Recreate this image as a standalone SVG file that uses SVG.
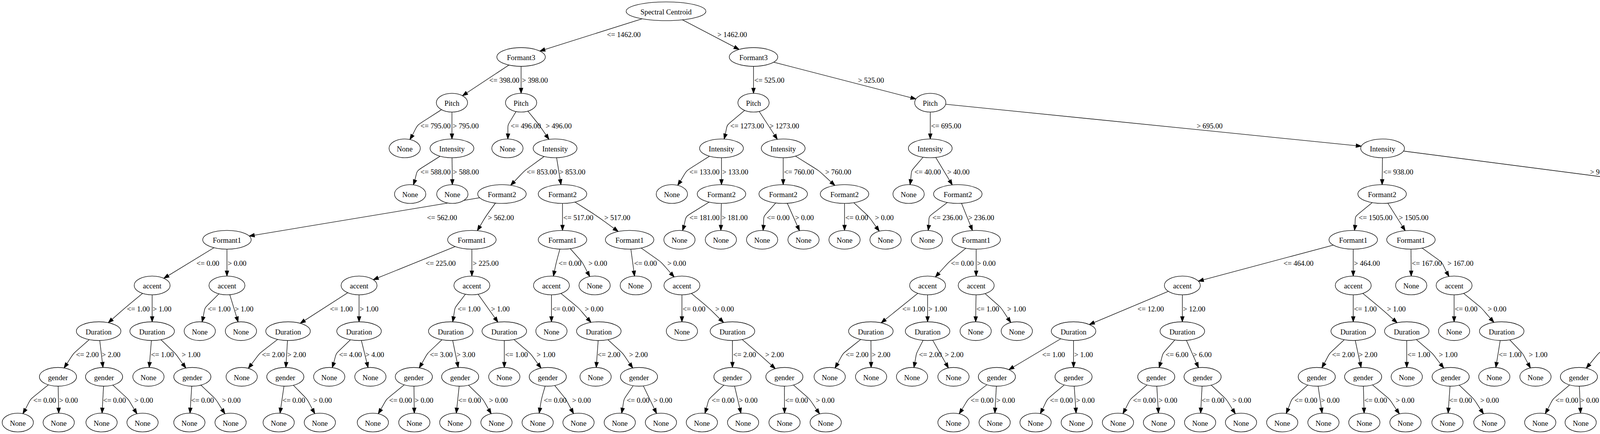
<svg xmlns="http://www.w3.org/2000/svg" width="5934" height="1112" viewBox="0 0 5934 1112">
<style>
.node ellipse{fill:#fff;stroke:#000;stroke-width:1.33}
.node text,.lbl{font-family:"Liberation Serif","Times New Roman",serif;font-size:18.67px;fill:#000}
.node text{text-anchor:middle}
.edge{fill:none;stroke:#000;stroke-width:1.33;marker-end:url(#arr)}
</style>
<defs>
<marker id="arr" markerUnits="userSpaceOnUse" markerWidth="16" markerHeight="12" refX="13.3" refY="4.7" orient="auto" overflow="visible"><path d="M0,0 L13.3,4.7 L0,9.4 Z" fill="#000" stroke="#000" stroke-width="1.3"/></marker>
</defs>
<rect width="5934" height="1112" fill="#fff"/>
<g id="connectors">
<path class="edge" d="M1705,28.9 L1382,130.8"/>
<path class="edge" d="M1705,28.9 L1892.1,126.7"/>
<path class="edge" d="M1334,146 L1183.9,245.3"/>
<path class="edge" d="M1334,146 L1334,239.1"/>
<path class="edge" d="M1157,263.1 C1041.7,341.2 1082,302.1 1049.3,357.5"/>
<path class="edge" d="M1157,263.1 L1157,356.1"/>
<path class="edge" d="M1157,380.1 C1041.7,458.2 1077.3,419.2 1058.2,473.7"/>
<path class="edge" d="M1157,380.1 L1158,473.2"/>
<path class="edge" d="M1334,263.1 C1290.7,341.2 1302.3,302.1 1300,356.1"/>
<path class="edge" d="M1334,263.1 C1396.7,341.2 1367.7,302.1 1405.3,357.1"/>
<path class="edge" d="M1421,380.1 C1316.5,458.2 1361.8,419.2 1307.1,474.8"/>
<path class="edge" d="M1421,380.1 L1436.1,473.2"/>
<path class="edge" d="M1285,497.2 L638,604.8"/>
<path class="edge" d="M1285,497.2 C1229,575.3 1254.7,536.2 1222,590.9"/>
<path class="edge" d="M581,614.3 L419.4,713.1"/>
<path class="edge" d="M581,614.3 L581,707.4"/>
<path class="edge" d="M389.5,731.4 C295.5,809.4 341.2,770.4 277.1,826.9"/>
<path class="edge" d="M389.5,731.4 L389.5,824.5"/>
<path class="edge" d="M252.5,848.5 C167,926.5 201.7,887.5 163.9,942.8"/>
<path class="edge" d="M252.5,848.5 L263.6,941.5"/>
<path class="edge" d="M148.4,965.5 C56.1,1043.6 90.4,1004.6 58.6,1059.9"/>
<path class="edge" d="M148.4,965.5 L150.3,1058.6"/>
<path class="edge" d="M266.4,965.5 L261.3,1058.6"/>
<path class="edge" d="M266.4,965.5 C348.5,1043.6 315.7,1004.6 350.7,1060.2"/>
<path class="edge" d="M389.5,848.5 L382,941.5"/>
<path class="edge" d="M389.5,848.5 C469.2,926.5 434.9,887.5 475.8,943"/>
<path class="edge" d="M492.4,965.5 L486.4,1058.6"/>
<path class="edge" d="M492.4,965.5 C572.1,1043.6 539.5,1004.6 575.8,1060.2"/>
<path class="edge" d="M581,731.4 C507.7,809.4 530.9,770.4 517.3,824.8"/>
<path class="edge" d="M581,731.4 L609.6,824.9"/>
<path class="edge" d="M1208,614.3 L955.5,716.7"/>
<path class="edge" d="M1208,614.3 L1208,707.4"/>
<path class="edge" d="M919.2,731.4 L768.6,828.4"/>
<path class="edge" d="M919.2,731.4 L919.2,824.5"/>
<path class="edge" d="M737.4,848.5 C640.2,926.5 679.8,887.5 635.7,943.8"/>
<path class="edge" d="M737.4,848.5 L731.8,941.5"/>
<path class="edge" d="M730.4,965.5 L716.9,1058.7"/>
<path class="edge" d="M730.4,965.5 C804.3,1043.6 774.8,1004.6 806,1059.9"/>
<path class="edge" d="M919.2,848.5 C842.9,926.5 868.4,887.5 850.5,942"/>
<path class="edge" d="M919.2,848.5 L942.3,941.8"/>
<path class="edge" d="M1208,731.4 C1151.7,809.4 1169.7,770.4 1158.8,824.6"/>
<path class="edge" d="M1208,731.4 L1274.7,825.5"/>
<path class="edge" d="M1154,848.5 C1074.7,926.5 1106.2,887.5 1073.2,942.5"/>
<path class="edge" d="M1154,848.5 L1173.1,941.6"/>
<path class="edge" d="M1059.4,965.5 C967.3,1043.6 1002.2,1004.6 968.3,1060.1"/>
<path class="edge" d="M1059.4,965.5 L1060.6,1058.6"/>
<path class="edge" d="M1178,965.5 L1168.1,1058.6"/>
<path class="edge" d="M1178,965.5 C1255.3,1043.6 1224.3,1004.6 1257.5,1060"/>
<path class="edge" d="M1291,848.5 L1291,941.5"/>
<path class="edge" d="M1291,848.5 C1380.1,926.5 1343,887.5 1385.3,943.1"/>
<path class="edge" d="M1402.3,965.5 C1380.6,1043.6 1389.2,1004.6 1380.3,1058.7"/>
<path class="edge" d="M1402.3,965.5 C1464.2,1043.6 1437.9,1004.6 1468.4,1059.8"/>
<path class="edge" d="M1440,497.2 L1440,590.3"/>
<path class="edge" d="M1440,497.2 C1561.3,575.3 1504.1,536.2 1582.6,593.1"/>
<path class="edge" d="M1440,614.3 C1418.7,692.4 1428.1,653.3 1416.7,707.5"/>
<path class="edge" d="M1440,614.3 C1507.2,692.4 1479.8,653.3 1509.8,708.6"/>
<path class="edge" d="M1411.7,731.4 L1411.7,824.5"/>
<path class="edge" d="M1411.7,731.4 C1504.1,809.4 1463.7,770.4 1513,826"/>
<path class="edge" d="M1533,848.5 L1526.4,941.5"/>
<path class="edge" d="M1533,848.5 C1615.1,926.5 1580.9,887.5 1619.9,942.9"/>
<path class="edge" d="M1635.8,965.5 C1585.8,1043.6 1602.2,1004.6 1591.4,1058.8"/>
<path class="edge" d="M1635.8,965.5 L1680.9,1059.5"/>
<path class="edge" d="M1611.8,614.3 L1624.4,707.5"/>
<path class="edge" d="M1611.8,614.3 C1719.3,692.4 1674.6,653.3 1726,709.7"/>
<path class="edge" d="M1745.7,731.4 L1745.7,824.5"/>
<path class="edge" d="M1745.7,731.4 C1838.1,809.4 1795,770.4 1852.5,826.5"/>
<path class="edge" d="M1875.1,848.5 L1875,941.5"/>
<path class="edge" d="M1875.1,848.5 C1965.6,926.5 1921.3,887.5 1984.8,944.6"/>
<path class="edge" d="M1875,965.5 C1796.3,1043.6 1822.4,1004.6 1804.5,1059.1"/>
<path class="edge" d="M1875,965.5 L1896.8,1058.8"/>
<path class="edge" d="M2008,965.5 L2008.4,1058.6"/>
<path class="edge" d="M2008,965.5 C2094.1,1043.6 2058.9,1004.6 2098.2,1060.5"/>
<path class="edge" d="M1929,146 L1929,239.1"/>
<path class="edge" d="M1929,146 L2344.8,253.6"/>
<path class="edge" d="M1929,263.1 C1841.5,341.2 1868.9,302.1 1853.7,356.3"/>
<path class="edge" d="M1929,263.1 L1990,357"/>
<path class="edge" d="M1847,380.1 C1729.7,458.2 1772,419.2 1734.8,474.9"/>
<path class="edge" d="M1847,380.1 L1847,473.2"/>
<path class="edge" d="M1847,497.2 C1729.7,575.3 1765.5,536.2 1747.3,590.8"/>
<path class="edge" d="M1847,497.2 L1845.4,590.3"/>
<path class="edge" d="M2005,380.1 L2005,473.2"/>
<path class="edge" d="M2005,380.1 C2127.1,458.2 2074.8,419.2 2137.4,475.2"/>
<path class="edge" d="M2005,497.2 C1941,575.3 1959,536.2 1953.5,590.3"/>
<path class="edge" d="M2005,497.2 L2046.7,591.1"/>
<path class="edge" d="M2162,497.2 L2162,590.3"/>
<path class="edge" d="M2162,497.2 C2244.7,575.3 2209.7,536.2 2250.9,592.3"/>
<path class="edge" d="M2381.5,263.1 L2381.5,356.1"/>
<path class="edge" d="M2381.5,263.1 L3484.9,374.6"/>
<path class="edge" d="M2381.5,380.1 C2319.5,458.2 2338,419.2 2329.7,473.3"/>
<path class="edge" d="M2381.5,380.1 L2437.9,473.8"/>
<path class="edge" d="M2452,497.2 C2357.3,575.3 2383.8,536.2 2376.1,590.3"/>
<path class="edge" d="M2452,497.2 L2489.5,590.6"/>
<path class="edge" d="M2499,614.3 C2405,692.4 2446.5,653.3 2394.5,709.8"/>
<path class="edge" d="M2499,614.3 L2499,707.4"/>
<path class="edge" d="M2374.6,731.4 L2255.8,827.2"/>
<path class="edge" d="M2374.6,731.4 L2374.6,824.5"/>
<path class="edge" d="M2229.4,848.5 C2135.5,926.5 2170.7,887.5 2137.5,942.9"/>
<path class="edge" d="M2229.4,848.5 L2230,941.5"/>
<path class="edge" d="M2374.6,848.5 C2337.1,926.5 2350.4,887.5 2339.6,941.7"/>
<path class="edge" d="M2374.6,848.5 L2428,942.8"/>
<path class="edge" d="M2499,731.4 L2497.7,824.5"/>
<path class="edge" d="M2499,731.4 C2583.7,809.4 2549,770.4 2587.7,826.3"/>
<path class="edge" d="M3539.4,380.1 L3538.2,473.2"/>
<path class="edge" d="M3539.4,380.1 L4382.2,489.6"/>
<path class="edge" d="M3538.2,497.2 C3450.2,575.3 3474.8,536.2 3467.5,590.3"/>
<path class="edge" d="M3538.2,497.2 L3597.3,591"/>
<path class="edge" d="M3464.3,614.3 L3067.7,720.4"/>
<path class="edge" d="M3464.3,614.3 L3464.3,707.4"/>
<path class="edge" d="M3026.8,731.4 L2788.6,831.5"/>
<path class="edge" d="M3026.8,731.4 L3026.8,824.5"/>
<path class="edge" d="M2748.3,848.5 L2582.7,947.2"/>
<path class="edge" d="M2748.3,848.5 L2748.3,941.5"/>
<path class="edge" d="M2552,965.5 C2454.7,1043.6 2491.7,1004.6 2455.5,1060.2"/>
<path class="edge" d="M2552,965.5 L2546.9,1058.6"/>
<path class="edge" d="M2748.3,965.5 C2659.9,1043.6 2692.3,1004.6 2663.1,1059.7"/>
<path class="edge" d="M2748.3,965.5 L2754.8,1058.6"/>
<path class="edge" d="M3026.8,848.5 C2961.6,926.5 2983.9,887.5 2967.3,941.8"/>
<path class="edge" d="M3026.8,848.5 L3068.2,942.1"/>
<path class="edge" d="M2960,965.5 C2872.7,1043.6 2905.3,1004.6 2874.6,1059.8"/>
<path class="edge" d="M2960,965.5 L2965.6,1058.6"/>
<path class="edge" d="M3078.6,965.5 L3073.6,1058.6"/>
<path class="edge" d="M3078.6,965.5 C3159.1,1043.6 3126.3,1004.6 3162.5,1060.2"/>
<path class="edge" d="M3464.3,731.4 L3464.3,824.5"/>
<path class="edge" d="M3464.3,731.4 C3558.3,809.4 3512.6,770.4 3576.7,826.9"/>
<path class="edge" d="M3464.3,848.5 C3383.9,926.5 3415,887.5 3383.9,942.4"/>
<path class="edge" d="M3464.3,848.5 L3484.4,941.6"/>
<path class="edge" d="M3370.9,965.5 C3287,1043.6 3316.5,1004.6 3292.6,1059.4"/>
<path class="edge" d="M3370.9,965.5 L3384.5,1058.6"/>
<path class="edge" d="M3489.6,965.5 L3492.1,1058.6"/>
<path class="edge" d="M3489.6,965.5 C3579.5,1043.6 3543.3,1004.6 3582.5,1060.5"/>
<path class="edge" d="M3601.3,848.5 L3601.3,941.5"/>
<path class="edge" d="M3601.3,848.5 C3689.4,926.5 3652,887.5 3696.1,943.2"/>
<path class="edge" d="M3713.7,965.5 L3707.2,1058.6"/>
<path class="edge" d="M3713.7,965.5 C3793.3,1043.6 3760.3,1004.6 3797.8,1060.4"/>
<path class="edge" d="M3612,614.3 L3612.7,707.4"/>
<path class="edge" d="M3612,614.3 C3715.3,692.4 3678.5,653.3 3709.5,708.4"/>
<path class="edge" d="M3722.5,731.4 L3722.5,824.5"/>
<path class="edge" d="M3722.5,731.4 C3815.7,809.4 3775.1,770.4 3824.4,826"/>
<path class="edge" d="M3844.4,848.5 L3829.3,941.6"/>
<path class="edge" d="M3844.4,848.5 C3915.6,926.5 3886.8,887.5 3918,942.8"/>
<path class="edge" d="M4441,497.2 L4439.8,590.3"/>
<path class="edge" d="M4441,497.2 L4870.5,601.5"/>
<path class="edge" d="M4439.8,614.3 L4364.6,709.2"/>
<path class="edge" d="M4439.8,614.3 L4539.7,710.3"/>
<path class="edge" d="M4347,731.4 L4193.6,828.5"/>
<path class="edge" d="M4347,731.4 L4347,824.5"/>
<path class="edge" d="M4162,848.5 C4068.1,926.5 4108.1,887.5 4060.7,943.4"/>
<path class="edge" d="M4162,848.5 L4162,941.5"/>
<path class="edge" d="M4042,965.5 C3954,1043.6 3987,1004.6 3955.8,1059.9"/>
<path class="edge" d="M4042,965.5 L4046.3,1058.6"/>
<path class="edge" d="M4162,965.5 L4159,1058.6"/>
<path class="edge" d="M4162,965.5 C4246,1043.6 4212,1004.6 4249.2,1060.3"/>
<path class="edge" d="M4347,848.5 C4275,926.5 4299.4,887.5 4281.5,942"/>
<path class="edge" d="M4347,848.5 L4377.2,941.8"/>
<path class="edge" d="M4384.9,965.5 L4379.4,1058.6"/>
<path class="edge" d="M4384.9,965.5 C4466.4,1043.6 4433.8,1004.6 4468.6,1060.1"/>
<path class="edge" d="M4561.6,731.4 L4561.6,824.5"/>
<path class="edge" d="M4561.6,731.4 L4693.5,827.7"/>
<path class="edge" d="M4561.6,848.5 C4496.4,926.5 4518.1,887.5 4503.1,941.8"/>
<path class="edge" d="M4561.6,848.5 L4599.5,942"/>
<path class="edge" d="M4609,965.5 L4604,1058.6"/>
<path class="edge" d="M4609,965.5 C4690.3,1043.6 4657.3,1004.6 4693.5,1060.2"/>
<path class="edge" d="M4722,848.5 L4722,941.5"/>
<path class="edge" d="M4722,848.5 C4806.7,926.5 4771.7,887.5 4811.2,943.4"/>
<path class="edge" d="M4923,614.3 L4923,707.4"/>
<path class="edge" d="M4923,614.3 L5274.9,719.5"/>
<path class="edge" d="M4923,731.4 C4865.7,809.4 4883,770.4 4874.7,824.6"/>
<path class="edge" d="M4923,731.4 L4978.9,825.2"/>
<path class="edge" d="M4992.8,848.5 C4930.4,926.5 4950.3,887.5 4938.3,941.6"/>
<path class="edge" d="M4992.8,848.5 L5034,942.1"/>
<path class="edge" d="M5044.3,965.5 C4952.4,1043.6 4988.9,1004.6 4950.3,1060.4"/>
<path class="edge" d="M5044.3,965.5 L5044.3,1058.6"/>
<path class="edge" d="M5314.8,731.4 L5314.8,824.5"/>
<path class="edge" d="M5314.8,731.4 L5577.7,832.3"/>
<path class="edge" d="M5314.8,848.5 C5252.4,926.5 5274.4,887.5 5256.5,941.8"/>
<path class="edge" d="M5314.8,848.5 L5357.4,942.1"/>
<path class="edge" d="M5248.7,965.5 C5161.1,1043.6 5194,1004.6 5162.8,1059.9"/>
<path class="edge" d="M5248.7,965.5 L5253.7,1058.6"/>
<path class="edge" d="M5368,965.5 L5363.2,1058.6"/>
<path class="edge" d="M5368,965.5 C5450.1,1043.6 5417.1,1004.6 5452.7,1060.2"/>
<path class="edge" d="M5619.8,848.5 L5618.5,941.5"/>
<path class="edge" d="M5619.8,848.5 L5755.9,945.9"/>
<path class="edge" d="M5618.5,965.5 C5572.5,1043.6 5588.2,1004.6 5576.6,1058.7"/>
<path class="edge" d="M5618.5,965.5 L5666.1,1059.6"/>
<path class="edge" d="M5783.3,965.5 L5783.3,1058.6"/>
<path class="edge" d="M5783.3,965.5 C5866.9,1043.6 5831.9,1004.6 5872.4,1060.6"/>
</g>
<g id="connector-labels">
<text class="lbl" x="1553.8" y="95.3">&lt;= 1462.00</text>
<text class="lbl" x="1836.6" y="95.3">&gt; 1462.00</text>
<text class="lbl" x="1252.6" y="212.4">&lt;= 398.00</text>
<text class="lbl" x="1336" y="212.4">&gt; 398.00</text>
<text class="lbl" x="1931" y="212.4">&lt;= 525.00</text>
<text class="lbl" x="2196.5" y="212.4">&gt; 525.00</text>
<text class="lbl" x="1076.5" y="329.4">&lt;= 795.00</text>
<text class="lbl" x="1159" y="329.4">&gt; 795.00</text>
<text class="lbl" x="1307.5" y="329.4">&lt;= 496.00</text>
<text class="lbl" x="1397" y="329.4">&gt; 496.00</text>
<text class="lbl" x="1869.4" y="329.4">&lt;= 1273.00</text>
<text class="lbl" x="1970" y="329.4">&gt; 1273.00</text>
<text class="lbl" x="2383.5" y="329.4">&lt;= 695.00</text>
<text class="lbl" x="3063.4" y="329.4">&gt; 695.00</text>
<text class="lbl" x="1076.5" y="446.5">&lt;= 588.00</text>
<text class="lbl" x="1159.5" y="446.5">&gt; 588.00</text>
<text class="lbl" x="1348.6" y="446.5">&lt;= 853.00</text>
<text class="lbl" x="1432" y="446.5">&gt; 853.00</text>
<text class="lbl" x="1765" y="446.5">&lt;= 133.00</text>
<text class="lbl" x="1849" y="446.5">&gt; 133.00</text>
<text class="lbl" x="2007" y="446.5">&lt;= 760.00</text>
<text class="lbl" x="2112.6" y="446.5">&gt; 760.00</text>
<text class="lbl" x="2341" y="446.5">&lt;= 40.00</text>
<text class="lbl" x="2425" y="446.5">&gt; 40.00</text>
<text class="lbl" x="3541" y="446.5">&lt;= 938.00</text>
<text class="lbl" x="4070.5" y="446.5">&gt; 938.00</text>
<text class="lbl" x="1093" y="563.6">&lt;= 562.00</text>
<text class="lbl" x="1249" y="563.6">&gt; 562.00</text>
<text class="lbl" x="1442" y="563.6">&lt;= 517.00</text>
<text class="lbl" x="1547" y="563.6">&gt; 517.00</text>
<text class="lbl" x="1765" y="563.6">&lt;= 181.00</text>
<text class="lbl" x="1847.5" y="563.6">&gt; 181.00</text>
<text class="lbl" x="1963" y="563.6">&lt;= 0.00</text>
<text class="lbl" x="2035.6" y="563.6">&gt; 0.00</text>
<text class="lbl" x="2164" y="563.6">&lt;= 0.00</text>
<text class="lbl" x="2240" y="563.6">&gt; 0.00</text>
<text class="lbl" x="2387" y="563.6">&lt;= 236.00</text>
<text class="lbl" x="2478.7" y="563.6">&gt; 236.00</text>
<text class="lbl" x="3478.2" y="563.6">&lt;= 1505.00</text>
<text class="lbl" x="3581" y="563.6">&gt; 1505.00</text>
<text class="lbl" x="4442.5" y="563.6">&lt;= 855.00</text>
<text class="lbl" x="4725" y="563.6">&gt; 855.00</text>
<text class="lbl" x="503" y="680.7">&lt;= 0.00</text>
<text class="lbl" x="583" y="680.7">&gt; 0.00</text>
<text class="lbl" x="1089.7" y="680.7">&lt;= 225.00</text>
<text class="lbl" x="1210" y="680.7">&gt; 225.00</text>
<text class="lbl" x="1430" y="680.7">&lt;= 0.00</text>
<text class="lbl" x="1506.4" y="680.7">&gt; 0.00</text>
<text class="lbl" x="1623.2" y="680.7">&lt;= 0.00</text>
<text class="lbl" x="1708.4" y="680.7">&gt; 0.00</text>
<text class="lbl" x="2434.5" y="680.7">&lt;= 0.00</text>
<text class="lbl" x="2501" y="680.7">&gt; 0.00</text>
<text class="lbl" x="3285.7" y="680.7">&lt;= 464.00</text>
<text class="lbl" x="3466" y="680.7">&gt; 464.00</text>
<text class="lbl" x="3614" y="680.7">&lt;= 167.00</text>
<text class="lbl" x="3705.5" y="680.7">&gt; 167.00</text>
<text class="lbl" x="4402" y="680.7">&lt;= 395.00</text>
<text class="lbl" x="4512.4" y="680.7">&gt; 395.00</text>
<text class="lbl" x="4925" y="680.7">&lt;= 256.00</text>
<text class="lbl" x="5154" y="680.7">&gt; 256.00</text>
<text class="lbl" x="325" y="797.8">&lt;= 1.00</text>
<text class="lbl" x="391" y="797.8">&gt; 1.00</text>
<text class="lbl" x="532" y="797.8">&lt;= 1.00</text>
<text class="lbl" x="601" y="797.8">&gt; 1.00</text>
<text class="lbl" x="844.7" y="797.8">&lt;= 1.00</text>
<text class="lbl" x="921" y="797.8">&gt; 1.00</text>
<text class="lbl" x="1171.8" y="797.8">&lt;= 1.00</text>
<text class="lbl" x="1257" y="797.8">&gt; 1.00</text>
<text class="lbl" x="1413.5" y="797.8">&lt;= 0.00</text>
<text class="lbl" x="1497" y="797.8">&gt; 0.00</text>
<text class="lbl" x="1747.5" y="797.8">&lt;= 0.00</text>
<text class="lbl" x="1831" y="797.8">&gt; 0.00</text>
<text class="lbl" x="2310" y="797.8">&lt;= 1.00</text>
<text class="lbl" x="2376.5" y="797.8">&gt; 1.00</text>
<text class="lbl" x="2499.5" y="797.8">&lt;= 1.00</text>
<text class="lbl" x="2578.5" y="797.8">&gt; 1.00</text>
<text class="lbl" x="2912" y="797.8">&lt;= 12.00</text>
<text class="lbl" x="3028.5" y="797.8">&gt; 12.00</text>
<text class="lbl" x="3466" y="797.8">&lt;= 1.00</text>
<text class="lbl" x="3550.8" y="797.8">&gt; 1.00</text>
<text class="lbl" x="3724" y="797.8">&lt;= 0.00</text>
<text class="lbl" x="3808.4" y="797.8">&gt; 0.00</text>
<text class="lbl" x="4270.6" y="797.8">&lt;= 4.00</text>
<text class="lbl" x="4349" y="797.8">&gt; 4.00</text>
<text class="lbl" x="4563.5" y="797.8">&lt;= 3.00</text>
<text class="lbl" x="4656.3" y="797.8">&gt; 3.00</text>
<text class="lbl" x="4886" y="797.8">&lt;= 0.00</text>
<text class="lbl" x="4963.8" y="797.8">&gt; 0.00</text>
<text class="lbl" x="5316.5" y="797.8">&lt;= 7.00</text>
<text class="lbl" x="5494" y="797.8">&gt; 7.00</text>
<text class="lbl" x="194.4" y="914.8">&lt;= 2.00</text>
<text class="lbl" x="260.5" y="914.8">&gt; 2.00</text>
<text class="lbl" x="386.4" y="914.8">&lt;= 1.00</text>
<text class="lbl" x="465.3" y="914.8">&gt; 1.00</text>
<text class="lbl" x="670.5" y="914.8">&lt;= 2.00</text>
<text class="lbl" x="735.5" y="914.8">&gt; 2.00</text>
<text class="lbl" x="868" y="914.8">&lt;= 4.00</text>
<text class="lbl" x="935.6" y="914.8">&gt; 4.00</text>
<text class="lbl" x="1100.5" y="914.8">&lt;= 3.00</text>
<text class="lbl" x="1168.7" y="914.8">&gt; 3.00</text>
<text class="lbl" x="1293" y="914.8">&lt;= 1.00</text>
<text class="lbl" x="1373.8" y="914.8">&gt; 1.00</text>
<text class="lbl" x="1529.8" y="914.8">&lt;= 2.00</text>
<text class="lbl" x="1610.6" y="914.8">&gt; 2.00</text>
<text class="lbl" x="1877" y="914.8">&lt;= 2.00</text>
<text class="lbl" x="1959" y="914.8">&gt; 2.00</text>
<text class="lbl" x="2165" y="914.8">&lt;= 2.00</text>
<text class="lbl" x="2231.5" y="914.8">&gt; 2.00</text>
<text class="lbl" x="2352.5" y="914.8">&lt;= 2.00</text>
<text class="lbl" x="2418.8" y="914.8">&gt; 2.00</text>
<text class="lbl" x="2668" y="914.8">&lt;= 1.00</text>
<text class="lbl" x="2750" y="914.8">&gt; 1.00</text>
<text class="lbl" x="2983.9" y="914.8">&lt;= 6.00</text>
<text class="lbl" x="3054" y="914.8">&gt; 6.00</text>
<text class="lbl" x="3410" y="914.8">&lt;= 2.00</text>
<text class="lbl" x="3478.2" y="914.8">&gt; 2.00</text>
<text class="lbl" x="3603" y="914.8">&lt;= 1.00</text>
<text class="lbl" x="3683.4" y="914.8">&gt; 1.00</text>
<text class="lbl" x="3836.8" y="914.8">&lt;= 1.00</text>
<text class="lbl" x="3913.8" y="914.8">&gt; 1.00</text>
<text class="lbl" x="4097.6" y="914.8">&lt;= 6.00</text>
<text class="lbl" x="4164" y="914.8">&gt; 6.00</text>
<text class="lbl" x="4299" y="914.8">&lt;= 1.00</text>
<text class="lbl" x="4370.4" y="914.8">&gt; 1.00</text>
<text class="lbl" x="4518.7" y="914.8">&lt;= 1.00</text>
<text class="lbl" x="4591.3" y="914.8">&gt; 1.00</text>
<text class="lbl" x="4724" y="914.8">&lt;= 2.00</text>
<text class="lbl" x="4801.5" y="914.8">&gt; 2.00</text>
<text class="lbl" x="4952" y="914.8">&lt;= 2.00</text>
<text class="lbl" x="5022.3" y="914.8">&gt; 2.00</text>
<text class="lbl" x="5274" y="914.8">&lt;= 1.00</text>
<text class="lbl" x="5346" y="914.8">&gt; 1.00</text>
<text class="lbl" x="5621" y="914.8">&lt;= 3.00</text>
<text class="lbl" x="5716" y="914.8">&gt; 3.00</text>
<text class="lbl" x="85.2" y="1031.9">&lt;= 0.00</text>
<text class="lbl" x="151.5" y="1031.9">&gt; 0.00</text>
<text class="lbl" x="263.9" y="1031.9">&lt;= 0.00</text>
<text class="lbl" x="344" y="1031.9">&gt; 0.00</text>
<text class="lbl" x="489.3" y="1031.9">&lt;= 0.00</text>
<text class="lbl" x="568.2" y="1031.9">&gt; 0.00</text>
<text class="lbl" x="722.9" y="1031.9">&lt;= 0.00</text>
<text class="lbl" x="801.8" y="1031.9">&gt; 0.00</text>
<text class="lbl" x="996.3" y="1031.9">&lt;= 0.00</text>
<text class="lbl" x="1061.5" y="1031.9">&gt; 0.00</text>
<text class="lbl" x="1173" y="1031.9">&lt;= 0.00</text>
<text class="lbl" x="1252" y="1031.9">&gt; 0.00</text>
<text class="lbl" x="1392" y="1031.9">&lt;= 0.00</text>
<text class="lbl" x="1464.7" y="1031.9">&gt; 0.00</text>
<text class="lbl" x="1604.3" y="1031.9">&lt;= 0.00</text>
<text class="lbl" x="1673" y="1031.9">&gt; 0.00</text>
<text class="lbl" x="1822" y="1031.9">&lt;= 0.00</text>
<text class="lbl" x="1891.5" y="1031.9">&gt; 0.00</text>
<text class="lbl" x="2010" y="1031.9">&lt;= 0.00</text>
<text class="lbl" x="2088.6" y="1031.9">&gt; 0.00</text>
<text class="lbl" x="2485" y="1031.9">&lt;= 0.00</text>
<text class="lbl" x="2550.5" y="1031.9">&gt; 0.00</text>
<text class="lbl" x="2688" y="1031.9">&lt;= 0.00</text>
<text class="lbl" x="2754.5" y="1031.9">&gt; 0.00</text>
<text class="lbl" x="2900.5" y="1031.9">&lt;= 0.00</text>
<text class="lbl" x="2966" y="1031.9">&gt; 0.00</text>
<text class="lbl" x="3076" y="1031.9">&lt;= 0.00</text>
<text class="lbl" x="3155" y="1031.9">&gt; 0.00</text>
<text class="lbl" x="3314" y="1031.9">&lt;= 0.00</text>
<text class="lbl" x="3381.6" y="1031.9">&gt; 0.00</text>
<text class="lbl" x="3492.5" y="1031.9">&lt;= 0.00</text>
<text class="lbl" x="3573" y="1031.9">&gt; 0.00</text>
<text class="lbl" x="3710" y="1031.9">&lt;= 0.00</text>
<text class="lbl" x="3789.4" y="1031.9">&gt; 0.00</text>
<text class="lbl" x="3982" y="1031.9">&lt;= 0.00</text>
<text class="lbl" x="4045.5" y="1031.9">&gt; 0.00</text>
<text class="lbl" x="4162.5" y="1031.9">&lt;= 0.00</text>
<text class="lbl" x="4241" y="1031.9">&gt; 0.00</text>
<text class="lbl" x="4382" y="1031.9">&lt;= 0.00</text>
<text class="lbl" x="4462" y="1031.9">&gt; 0.00</text>
<text class="lbl" x="4607" y="1031.9">&lt;= 0.00</text>
<text class="lbl" x="4686" y="1031.9">&gt; 0.00</text>
<text class="lbl" x="4981.4" y="1031.9">&lt;= 0.00</text>
<text class="lbl" x="5046" y="1031.9">&gt; 0.00</text>
<text class="lbl" x="5189" y="1031.9">&lt;= 0.00</text>
<text class="lbl" x="5253.5" y="1031.9">&gt; 0.00</text>
<text class="lbl" x="5365.5" y="1031.9">&lt;= 0.00</text>
<text class="lbl" x="5445.6" y="1031.9">&gt; 0.00</text>
<text class="lbl" x="5590" y="1031.9">&lt;= 0.00</text>
<text class="lbl" x="5659.4" y="1031.9">&gt; 0.00</text>
<text class="lbl" x="5785.5" y="1031.9">&lt;= 0.00</text>
<text class="lbl" x="5862" y="1031.9">&gt; 0.00</text>
</g>
<g id="nodes">
<g id="n0" class="node"><ellipse cx="1705" cy="28.9" rx="102" ry="24"/><text x="1705" y="36.9">Spectral Centroid</text></g>
<g id="n1" class="node"><ellipse cx="1334" cy="146" rx="62" ry="24"/><text x="1334" y="154">Formant3</text></g>
<g id="n2" class="node"><ellipse cx="1929" cy="146" rx="62" ry="24"/><text x="1929" y="154">Formant3</text></g>
<g id="n3" class="node"><ellipse cx="1157" cy="263.1" rx="40" ry="24"/><text x="1157" y="271.1">Pitch</text></g>
<g id="n4" class="node"><ellipse cx="1334" cy="263.1" rx="40" ry="24"/><text x="1334" y="271.1">Pitch</text></g>
<g id="n73" class="node"><ellipse cx="1929" cy="263.1" rx="40" ry="24"/><text x="1929" y="271.1">Pitch</text></g>
<g id="n74" class="node"><ellipse cx="2381.5" cy="263.1" rx="40" ry="24"/><text x="2381.5" y="271.1">Pitch</text></g>
<g id="n5" class="node"><ellipse cx="1036" cy="380.1" rx="40" ry="24"/><text x="1036" y="388.1">None</text></g>
<g id="n6" class="node"><ellipse cx="1157" cy="380.1" rx="56" ry="24"/><text x="1157" y="388.1">Intensity</text></g>
<g id="n9" class="node"><ellipse cx="1299" cy="380.1" rx="40" ry="24"/><text x="1299" y="388.1">None</text></g>
<g id="n10" class="node"><ellipse cx="1421" cy="380.1" rx="56" ry="24"/><text x="1421" y="388.1">Intensity</text></g>
<g id="n75" class="node"><ellipse cx="1847" cy="380.1" rx="56" ry="24"/><text x="1847" y="388.1">Intensity</text></g>
<g id="n76" class="node"><ellipse cx="2005" cy="380.1" rx="56" ry="24"/><text x="2005" y="388.1">Intensity</text></g>
<g id="n87" class="node"><ellipse cx="2381.5" cy="380.1" rx="56" ry="24"/><text x="2381.5" y="388.1">Intensity</text></g>
<g id="n88" class="node"><ellipse cx="3539.4" cy="380.1" rx="56" ry="24"/><text x="3539.4" y="388.1">Intensity</text></g>
<g id="n7" class="node"><ellipse cx="1050" cy="497.2" rx="40" ry="24"/><text x="1050" y="505.2">None</text></g>
<g id="n8" class="node"><ellipse cx="1158" cy="497.2" rx="40" ry="24"/><text x="1158" y="505.2">None</text></g>
<g id="n11" class="node"><ellipse cx="1285" cy="497.2" rx="62" ry="24"/><text x="1285" y="505.2">Formant2</text></g>
<g id="n12" class="node"><ellipse cx="1440" cy="497.2" rx="62" ry="24"/><text x="1440" y="505.2">Formant2</text></g>
<g id="n77" class="node"><ellipse cx="1720" cy="497.2" rx="40" ry="24"/><text x="1720" y="505.2">None</text></g>
<g id="n78" class="node"><ellipse cx="1847" cy="497.2" rx="62" ry="24"/><text x="1847" y="505.2">Formant2</text></g>
<g id="n81" class="node"><ellipse cx="2005" cy="497.2" rx="62" ry="24"/><text x="2005" y="505.2">Formant2</text></g>
<g id="n82" class="node"><ellipse cx="2162" cy="497.2" rx="62" ry="24"/><text x="2162" y="505.2">Formant2</text></g>
<g id="n89" class="node"><ellipse cx="2326" cy="497.2" rx="40" ry="24"/><text x="2326" y="505.2">None</text></g>
<g id="n90" class="node"><ellipse cx="2452" cy="497.2" rx="62" ry="24"/><text x="2452" y="505.2">Formant2</text></g>
<g id="n103" class="node"><ellipse cx="3538.2" cy="497.2" rx="62" ry="24"/><text x="3538.2" y="505.2">Formant2</text></g>
<g id="n104" class="node"><ellipse cx="4441" cy="497.2" rx="62" ry="24"/><text x="4441" y="505.2">Formant2</text></g>
<g id="n13" class="node"><ellipse cx="581" cy="614.3" rx="62" ry="24"/><text x="581" y="622.3">Formant1</text></g>
<g id="n14" class="node"><ellipse cx="1208" cy="614.3" rx="62" ry="24"/><text x="1208" y="622.3">Formant1</text></g>
<g id="n53" class="node"><ellipse cx="1440" cy="614.3" rx="62" ry="24"/><text x="1440" y="622.3">Formant1</text></g>
<g id="n54" class="node"><ellipse cx="1611.8" cy="614.3" rx="62" ry="24"/><text x="1611.8" y="622.3">Formant1</text></g>
<g id="n79" class="node"><ellipse cx="1739.4" cy="614.3" rx="40" ry="24"/><text x="1739.4" y="622.3">None</text></g>
<g id="n80" class="node"><ellipse cx="1845.4" cy="614.3" rx="40" ry="24"/><text x="1845.4" y="622.3">None</text></g>
<g id="n83" class="node"><ellipse cx="1951" cy="614.3" rx="40" ry="24"/><text x="1951" y="622.3">None</text></g>
<g id="n84" class="node"><ellipse cx="2057" cy="614.3" rx="40" ry="24"/><text x="2057" y="622.3">None</text></g>
<g id="n85" class="node"><ellipse cx="2162" cy="614.3" rx="40" ry="24"/><text x="2162" y="622.3">None</text></g>
<g id="n86" class="node"><ellipse cx="2267" cy="614.3" rx="40" ry="24"/><text x="2267" y="622.3">None</text></g>
<g id="n91" class="node"><ellipse cx="2372.7" cy="614.3" rx="40" ry="24"/><text x="2372.7" y="622.3">None</text></g>
<g id="n92" class="node"><ellipse cx="2499" cy="614.3" rx="62" ry="24"/><text x="2499" y="622.3">Formant1</text></g>
<g id="n105" class="node"><ellipse cx="3464.3" cy="614.3" rx="62" ry="24"/><text x="3464.3" y="622.3">Formant1</text></g>
<g id="n106" class="node"><ellipse cx="3612" cy="614.3" rx="62" ry="24"/><text x="3612" y="622.3">Formant1</text></g>
<g id="n141" class="node"><ellipse cx="4439.8" cy="614.3" rx="62" ry="24"/><text x="4439.8" y="622.3">Formant1</text></g>
<g id="n142" class="node"><ellipse cx="4923" cy="614.3" rx="62" ry="24"/><text x="4923" y="622.3">Formant1</text></g>
<g id="n15" class="node"><ellipse cx="389.5" cy="731.4" rx="46" ry="24"/><text x="389.5" y="739.4">accent</text></g>
<g id="n16" class="node"><ellipse cx="581" cy="731.4" rx="46" ry="24"/><text x="581" y="739.4">accent</text></g>
<g id="n31" class="node"><ellipse cx="919.2" cy="731.4" rx="46" ry="24"/><text x="919.2" y="739.4">accent</text></g>
<g id="n32" class="node"><ellipse cx="1208" cy="731.4" rx="46" ry="24"/><text x="1208" y="739.4">accent</text></g>
<g id="n55" class="node"><ellipse cx="1411.7" cy="731.4" rx="46" ry="24"/><text x="1411.7" y="739.4">accent</text></g>
<g id="n56" class="node"><ellipse cx="1522.2" cy="731.4" rx="40" ry="24"/><text x="1522.2" y="739.4">None</text></g>
<g id="n63" class="node"><ellipse cx="1627.6" cy="731.4" rx="40" ry="24"/><text x="1627.6" y="739.4">None</text></g>
<g id="n64" class="node"><ellipse cx="1745.7" cy="731.4" rx="46" ry="24"/><text x="1745.7" y="739.4">accent</text></g>
<g id="n93" class="node"><ellipse cx="2374.6" cy="731.4" rx="46" ry="24"/><text x="2374.6" y="739.4">accent</text></g>
<g id="n94" class="node"><ellipse cx="2499" cy="731.4" rx="46" ry="24"/><text x="2499" y="739.4">accent</text></g>
<g id="n107" class="node"><ellipse cx="3026.8" cy="731.4" rx="46" ry="24"/><text x="3026.8" y="739.4">accent</text></g>
<g id="n108" class="node"><ellipse cx="3464.3" cy="731.4" rx="46" ry="24"/><text x="3464.3" y="739.4">accent</text></g>
<g id="n135" class="node"><ellipse cx="3612.7" cy="731.4" rx="40" ry="24"/><text x="3612.7" y="739.4">None</text></g>
<g id="n136" class="node"><ellipse cx="3722.5" cy="731.4" rx="46" ry="24"/><text x="3722.5" y="739.4">accent</text></g>
<g id="n143" class="node"><ellipse cx="4347" cy="731.4" rx="46" ry="24"/><text x="4347" y="739.4">accent</text></g>
<g id="n144" class="node"><ellipse cx="4561.6" cy="731.4" rx="46" ry="24"/><text x="4561.6" y="739.4">accent</text></g>
<g id="n165" class="node"><ellipse cx="4923" cy="731.4" rx="46" ry="24"/><text x="4923" y="739.4">accent</text></g>
<g id="n166" class="node"><ellipse cx="5314.8" cy="731.4" rx="46" ry="24"/><text x="5314.8" y="739.4">accent</text></g>
<g id="n17" class="node"><ellipse cx="252.5" cy="848.5" rx="57" ry="24"/><text x="252.5" y="856.5">Duration</text></g>
<g id="n18" class="node"><ellipse cx="389.5" cy="848.5" rx="57" ry="24"/><text x="389.5" y="856.5">Duration</text></g>
<g id="n29" class="node"><ellipse cx="511.4" cy="848.5" rx="40" ry="24"/><text x="511.4" y="856.5">None</text></g>
<g id="n30" class="node"><ellipse cx="616.8" cy="848.5" rx="40" ry="24"/><text x="616.8" y="856.5">None</text></g>
<g id="n33" class="node"><ellipse cx="737.4" cy="848.5" rx="57" ry="24"/><text x="737.4" y="856.5">Duration</text></g>
<g id="n34" class="node"><ellipse cx="919.2" cy="848.5" rx="57" ry="24"/><text x="919.2" y="856.5">Duration</text></g>
<g id="n41" class="node"><ellipse cx="1154" cy="848.5" rx="57" ry="24"/><text x="1154" y="856.5">Duration</text></g>
<g id="n42" class="node"><ellipse cx="1291" cy="848.5" rx="57" ry="24"/><text x="1291" y="856.5">Duration</text></g>
<g id="n57" class="node"><ellipse cx="1411.7" cy="848.5" rx="40" ry="24"/><text x="1411.7" y="856.5">None</text></g>
<g id="n58" class="node"><ellipse cx="1533" cy="848.5" rx="57" ry="24"/><text x="1533" y="856.5">Duration</text></g>
<g id="n65" class="node"><ellipse cx="1745.7" cy="848.5" rx="40" ry="24"/><text x="1745.7" y="856.5">None</text></g>
<g id="n66" class="node"><ellipse cx="1875.1" cy="848.5" rx="57" ry="24"/><text x="1875.1" y="856.5">Duration</text></g>
<g id="n95" class="node"><ellipse cx="2229.4" cy="848.5" rx="57" ry="24"/><text x="2229.4" y="856.5">Duration</text></g>
<g id="n96" class="node"><ellipse cx="2374.6" cy="848.5" rx="57" ry="24"/><text x="2374.6" y="856.5">Duration</text></g>
<g id="n101" class="node"><ellipse cx="2497.7" cy="848.5" rx="40" ry="24"/><text x="2497.7" y="856.5">None</text></g>
<g id="n102" class="node"><ellipse cx="2603" cy="848.5" rx="40" ry="24"/><text x="2603" y="856.5">None</text></g>
<g id="n109" class="node"><ellipse cx="2748.3" cy="848.5" rx="57" ry="24"/><text x="2748.3" y="856.5">Duration</text></g>
<g id="n110" class="node"><ellipse cx="3026.8" cy="848.5" rx="57" ry="24"/><text x="3026.8" y="856.5">Duration</text></g>
<g id="n123" class="node"><ellipse cx="3464.3" cy="848.5" rx="57" ry="24"/><text x="3464.3" y="856.5">Duration</text></g>
<g id="n124" class="node"><ellipse cx="3601.3" cy="848.5" rx="57" ry="24"/><text x="3601.3" y="856.5">Duration</text></g>
<g id="n137" class="node"><ellipse cx="3722.5" cy="848.5" rx="40" ry="24"/><text x="3722.5" y="856.5">None</text></g>
<g id="n138" class="node"><ellipse cx="3844.4" cy="848.5" rx="57" ry="24"/><text x="3844.4" y="856.5">Duration</text></g>
<g id="n145" class="node"><ellipse cx="4162" cy="848.5" rx="57" ry="24"/><text x="4162" y="856.5">Duration</text></g>
<g id="n146" class="node"><ellipse cx="4347" cy="848.5" rx="57" ry="24"/><text x="4347" y="856.5">Duration</text></g>
<g id="n157" class="node"><ellipse cx="4561.6" cy="848.5" rx="57" ry="24"/><text x="4561.6" y="856.5">Duration</text></g>
<g id="n158" class="node"><ellipse cx="4722" cy="848.5" rx="57" ry="24"/><text x="4722" y="856.5">Duration</text></g>
<g id="n167" class="node"><ellipse cx="4871" cy="848.5" rx="40" ry="24"/><text x="4871" y="856.5">None</text></g>
<g id="n168" class="node"><ellipse cx="4992.8" cy="848.5" rx="57" ry="24"/><text x="4992.8" y="856.5">Duration</text></g>
<g id="n173" class="node"><ellipse cx="5314.8" cy="848.5" rx="57" ry="24"/><text x="5314.8" y="856.5">Duration</text></g>
<g id="n174" class="node"><ellipse cx="5619.8" cy="848.5" rx="57" ry="24"/><text x="5619.8" y="856.5">Duration</text></g>
<g id="n19" class="node"><ellipse cx="148.4" cy="965.5" rx="47.5" ry="24"/><text x="148.4" y="973.5">gender</text></g>
<g id="n20" class="node"><ellipse cx="266.4" cy="965.5" rx="47.5" ry="24"/><text x="266.4" y="973.5">gender</text></g>
<g id="n25" class="node"><ellipse cx="380" cy="965.5" rx="40" ry="24"/><text x="380" y="973.5">None</text></g>
<g id="n26" class="node"><ellipse cx="492.4" cy="965.5" rx="47.5" ry="24"/><text x="492.4" y="973.5">gender</text></g>
<g id="n35" class="node"><ellipse cx="618.7" cy="965.5" rx="40" ry="24"/><text x="618.7" y="973.5">None</text></g>
<g id="n36" class="node"><ellipse cx="730.4" cy="965.5" rx="47.5" ry="24"/><text x="730.4" y="973.5">gender</text></g>
<g id="n39" class="node"><ellipse cx="842.8" cy="965.5" rx="40" ry="24"/><text x="842.8" y="973.5">None</text></g>
<g id="n40" class="node"><ellipse cx="948.2" cy="965.5" rx="40" ry="24"/><text x="948.2" y="973.5">None</text></g>
<g id="n43" class="node"><ellipse cx="1059.4" cy="965.5" rx="47.5" ry="24"/><text x="1059.4" y="973.5">gender</text></g>
<g id="n44" class="node"><ellipse cx="1178" cy="965.5" rx="47.5" ry="24"/><text x="1178" y="973.5">gender</text></g>
<g id="n49" class="node"><ellipse cx="1291" cy="965.5" rx="40" ry="24"/><text x="1291" y="973.5">None</text></g>
<g id="n50" class="node"><ellipse cx="1402.3" cy="965.5" rx="47.5" ry="24"/><text x="1402.3" y="973.5">gender</text></g>
<g id="n59" class="node"><ellipse cx="1524.7" cy="965.5" rx="40" ry="24"/><text x="1524.7" y="973.5">None</text></g>
<g id="n60" class="node"><ellipse cx="1635.8" cy="965.5" rx="47.5" ry="24"/><text x="1635.8" y="973.5">gender</text></g>
<g id="n67" class="node"><ellipse cx="1875" cy="965.5" rx="47.5" ry="24"/><text x="1875" y="973.5">gender</text></g>
<g id="n68" class="node"><ellipse cx="2008" cy="965.5" rx="47.5" ry="24"/><text x="2008" y="973.5">gender</text></g>
<g id="n97" class="node"><ellipse cx="2124" cy="965.5" rx="40" ry="24"/><text x="2124" y="973.5">None</text></g>
<g id="n98" class="node"><ellipse cx="2230" cy="965.5" rx="40" ry="24"/><text x="2230" y="973.5">None</text></g>
<g id="n99" class="node"><ellipse cx="2334.8" cy="965.5" rx="40" ry="24"/><text x="2334.8" y="973.5">None</text></g>
<g id="n100" class="node"><ellipse cx="2440.9" cy="965.5" rx="40" ry="24"/><text x="2440.9" y="973.5">None</text></g>
<g id="n111" class="node"><ellipse cx="2552" cy="965.5" rx="47.5" ry="24"/><text x="2552" y="973.5">gender</text></g>
<g id="n112" class="node"><ellipse cx="2748.3" cy="965.5" rx="47.5" ry="24"/><text x="2748.3" y="973.5">gender</text></g>
<g id="n117" class="node"><ellipse cx="2960" cy="965.5" rx="47.5" ry="24"/><text x="2960" y="973.5">gender</text></g>
<g id="n118" class="node"><ellipse cx="3078.6" cy="965.5" rx="47.5" ry="24"/><text x="3078.6" y="973.5">gender</text></g>
<g id="n125" class="node"><ellipse cx="3370.9" cy="965.5" rx="47.5" ry="24"/><text x="3370.9" y="973.5">gender</text></g>
<g id="n126" class="node"><ellipse cx="3489.6" cy="965.5" rx="47.5" ry="24"/><text x="3489.6" y="973.5">gender</text></g>
<g id="n131" class="node"><ellipse cx="3601.3" cy="965.5" rx="40" ry="24"/><text x="3601.3" y="973.5">None</text></g>
<g id="n132" class="node"><ellipse cx="3713.7" cy="965.5" rx="47.5" ry="24"/><text x="3713.7" y="973.5">gender</text></g>
<g id="n139" class="node"><ellipse cx="3825.4" cy="965.5" rx="40" ry="24"/><text x="3825.4" y="973.5">None</text></g>
<g id="n140" class="node"><ellipse cx="3930.8" cy="965.5" rx="40" ry="24"/><text x="3930.8" y="973.5">None</text></g>
<g id="n147" class="node"><ellipse cx="4042" cy="965.5" rx="47.5" ry="24"/><text x="4042" y="973.5">gender</text></g>
<g id="n148" class="node"><ellipse cx="4162" cy="965.5" rx="47.5" ry="24"/><text x="4162" y="973.5">gender</text></g>
<g id="n153" class="node"><ellipse cx="4273.8" cy="965.5" rx="40" ry="24"/><text x="4273.8" y="973.5">None</text></g>
<g id="n154" class="node"><ellipse cx="4384.9" cy="965.5" rx="47.5" ry="24"/><text x="4384.9" y="973.5">gender</text></g>
<g id="n159" class="node"><ellipse cx="4496.6" cy="965.5" rx="40" ry="24"/><text x="4496.6" y="973.5">None</text></g>
<g id="n160" class="node"><ellipse cx="4609" cy="965.5" rx="47.5" ry="24"/><text x="4609" y="973.5">gender</text></g>
<g id="n163" class="node"><ellipse cx="4722" cy="965.5" rx="40" ry="24"/><text x="4722" y="973.5">None</text></g>
<g id="n164" class="node"><ellipse cx="4826.8" cy="965.5" rx="40" ry="24"/><text x="4826.8" y="973.5">None</text></g>
<g id="n169" class="node"><ellipse cx="4933" cy="965.5" rx="40" ry="24"/><text x="4933" y="973.5">None</text></g>
<g id="n170" class="node"><ellipse cx="5044.3" cy="965.5" rx="47.5" ry="24"/><text x="5044.3" y="973.5">gender</text></g>
<g id="n175" class="node"><ellipse cx="5248.7" cy="965.5" rx="47.5" ry="24"/><text x="5248.7" y="973.5">gender</text></g>
<g id="n176" class="node"><ellipse cx="5368" cy="965.5" rx="47.5" ry="24"/><text x="5368" y="973.5">gender</text></g>
<g id="n181" class="node"><ellipse cx="5618.5" cy="965.5" rx="47.5" ry="24"/><text x="5618.5" y="973.5">gender</text></g>
<g id="n182" class="node"><ellipse cx="5783.3" cy="965.5" rx="47.5" ry="24"/><text x="5783.3" y="973.5">gender</text></g>
<g id="n21" class="node"><ellipse cx="45.5" cy="1082.6" rx="40" ry="24"/><text x="45.5" y="1090.6">None</text></g>
<g id="n22" class="node"><ellipse cx="150.3" cy="1082.6" rx="40" ry="24"/><text x="150.3" y="1090.6">None</text></g>
<g id="n23" class="node"><ellipse cx="260" cy="1082.6" rx="40" ry="24"/><text x="260" y="1090.6">None</text></g>
<g id="n24" class="node"><ellipse cx="364.9" cy="1082.6" rx="40" ry="24"/><text x="364.9" y="1090.6">None</text></g>
<g id="n27" class="node"><ellipse cx="484.8" cy="1082.6" rx="40" ry="24"/><text x="484.8" y="1090.6">None</text></g>
<g id="n28" class="node"><ellipse cx="590.3" cy="1082.6" rx="40" ry="24"/><text x="590.3" y="1090.6">None</text></g>
<g id="n37" class="node"><ellipse cx="713.4" cy="1082.6" rx="40" ry="24"/><text x="713.4" y="1090.6">None</text></g>
<g id="n38" class="node"><ellipse cx="818.8" cy="1082.6" rx="40" ry="24"/><text x="818.8" y="1090.6">None</text></g>
<g id="n45" class="node"><ellipse cx="954.5" cy="1082.6" rx="40" ry="24"/><text x="954.5" y="1090.6">None</text></g>
<g id="n46" class="node"><ellipse cx="1060.7" cy="1082.6" rx="40" ry="24"/><text x="1060.7" y="1090.6">None</text></g>
<g id="n47" class="node"><ellipse cx="1165.5" cy="1082.6" rx="40" ry="24"/><text x="1165.5" y="1090.6">None</text></g>
<g id="n48" class="node"><ellipse cx="1271" cy="1082.6" rx="40" ry="24"/><text x="1271" y="1090.6">None</text></g>
<g id="n51" class="node"><ellipse cx="1376.4" cy="1082.6" rx="40" ry="24"/><text x="1376.4" y="1090.6">None</text></g>
<g id="n52" class="node"><ellipse cx="1481" cy="1082.6" rx="40" ry="24"/><text x="1481" y="1090.6">None</text></g>
<g id="n61" class="node"><ellipse cx="1586.6" cy="1082.6" rx="40" ry="24"/><text x="1586.6" y="1090.6">None</text></g>
<g id="n62" class="node"><ellipse cx="1692" cy="1082.6" rx="40" ry="24"/><text x="1692" y="1090.6">None</text></g>
<g id="n69" class="node"><ellipse cx="1796.8" cy="1082.6" rx="40" ry="24"/><text x="1796.8" y="1090.6">None</text></g>
<g id="n70" class="node"><ellipse cx="1902.3" cy="1082.6" rx="40" ry="24"/><text x="1902.3" y="1090.6">None</text></g>
<g id="n71" class="node"><ellipse cx="2008.4" cy="1082.6" rx="40" ry="24"/><text x="2008.4" y="1090.6">None</text></g>
<g id="n72" class="node"><ellipse cx="2113.8" cy="1082.6" rx="40" ry="24"/><text x="2113.8" y="1090.6">None</text></g>
<g id="n113" class="node"><ellipse cx="2440.9" cy="1082.6" rx="40" ry="24"/><text x="2440.9" y="1090.6">None</text></g>
<g id="n114" class="node"><ellipse cx="2546.3" cy="1082.6" rx="40" ry="24"/><text x="2546.3" y="1090.6">None</text></g>
<g id="n115" class="node"><ellipse cx="2651" cy="1082.6" rx="40" ry="24"/><text x="2651" y="1090.6">None</text></g>
<g id="n116" class="node"><ellipse cx="2756.5" cy="1082.6" rx="40" ry="24"/><text x="2756.5" y="1090.6">None</text></g>
<g id="n119" class="node"><ellipse cx="2862" cy="1082.6" rx="40" ry="24"/><text x="2862" y="1090.6">None</text></g>
<g id="n120" class="node"><ellipse cx="2967" cy="1082.6" rx="40" ry="24"/><text x="2967" y="1090.6">None</text></g>
<g id="n121" class="node"><ellipse cx="3072.3" cy="1082.6" rx="40" ry="24"/><text x="3072.3" y="1090.6">None</text></g>
<g id="n122" class="node"><ellipse cx="3177" cy="1082.6" rx="40" ry="24"/><text x="3177" y="1090.6">None</text></g>
<g id="n127" class="node"><ellipse cx="3282.5" cy="1082.6" rx="40" ry="24"/><text x="3282.5" y="1090.6">None</text></g>
<g id="n128" class="node"><ellipse cx="3388" cy="1082.6" rx="40" ry="24"/><text x="3388" y="1090.6">None</text></g>
<g id="n129" class="node"><ellipse cx="3492.7" cy="1082.6" rx="40" ry="24"/><text x="3492.7" y="1090.6">None</text></g>
<g id="n130" class="node"><ellipse cx="3598" cy="1082.6" rx="40" ry="24"/><text x="3598" y="1090.6">None</text></g>
<g id="n133" class="node"><ellipse cx="3705.5" cy="1082.6" rx="40" ry="24"/><text x="3705.5" y="1090.6">None</text></g>
<g id="n134" class="node"><ellipse cx="3812.8" cy="1082.6" rx="40" ry="24"/><text x="3812.8" y="1090.6">None</text></g>
<g id="n149" class="node"><ellipse cx="3943" cy="1082.6" rx="40" ry="24"/><text x="3943" y="1090.6">None</text></g>
<g id="n150" class="node"><ellipse cx="4046.5" cy="1082.6" rx="40" ry="24"/><text x="4046.5" y="1090.6">None</text></g>
<g id="n151" class="node"><ellipse cx="4158.9" cy="1082.6" rx="40" ry="24"/><text x="4158.9" y="1090.6">None</text></g>
<g id="n152" class="node"><ellipse cx="4264" cy="1082.6" rx="40" ry="24"/><text x="4264" y="1090.6">None</text></g>
<g id="n155" class="node"><ellipse cx="4378" cy="1082.6" rx="40" ry="24"/><text x="4378" y="1090.6">None</text></g>
<g id="n156" class="node"><ellipse cx="4482.7" cy="1082.6" rx="40" ry="24"/><text x="4482.7" y="1090.6">None</text></g>
<g id="n161" class="node"><ellipse cx="4602.7" cy="1082.6" rx="40" ry="24"/><text x="4602.7" y="1090.6">None</text></g>
<g id="n162" class="node"><ellipse cx="4708" cy="1082.6" rx="40" ry="24"/><text x="4708" y="1090.6">None</text></g>
<g id="n171" class="node"><ellipse cx="4935" cy="1082.6" rx="40" ry="24"/><text x="4935" y="1090.6">None</text></g>
<g id="n172" class="node"><ellipse cx="5044.3" cy="1082.6" rx="40" ry="24"/><text x="5044.3" y="1090.6">None</text></g>
<g id="n177" class="node"><ellipse cx="5150" cy="1082.6" rx="40" ry="24"/><text x="5150" y="1090.6">None</text></g>
<g id="n178" class="node"><ellipse cx="5255" cy="1082.6" rx="40" ry="24"/><text x="5255" y="1090.6">None</text></g>
<g id="n179" class="node"><ellipse cx="5362" cy="1082.6" rx="40" ry="24"/><text x="5362" y="1090.6">None</text></g>
<g id="n180" class="node"><ellipse cx="5467" cy="1082.6" rx="40" ry="24"/><text x="5467" y="1090.6">None</text></g>
<g id="n183" class="node"><ellipse cx="5571.4" cy="1082.6" rx="40" ry="24"/><text x="5571.4" y="1090.6">None</text></g>
<g id="n184" class="node"><ellipse cx="5677.7" cy="1082.6" rx="40" ry="24"/><text x="5677.7" y="1090.6">None</text></g>
<g id="n185" class="node"><ellipse cx="5783.3" cy="1082.6" rx="40" ry="24"/><text x="5783.3" y="1090.6">None</text></g>
<g id="n186" class="node"><ellipse cx="5888.4" cy="1082.6" rx="40" ry="24"/><text x="5888.4" y="1090.6">None</text></g>
</g>
</svg>
